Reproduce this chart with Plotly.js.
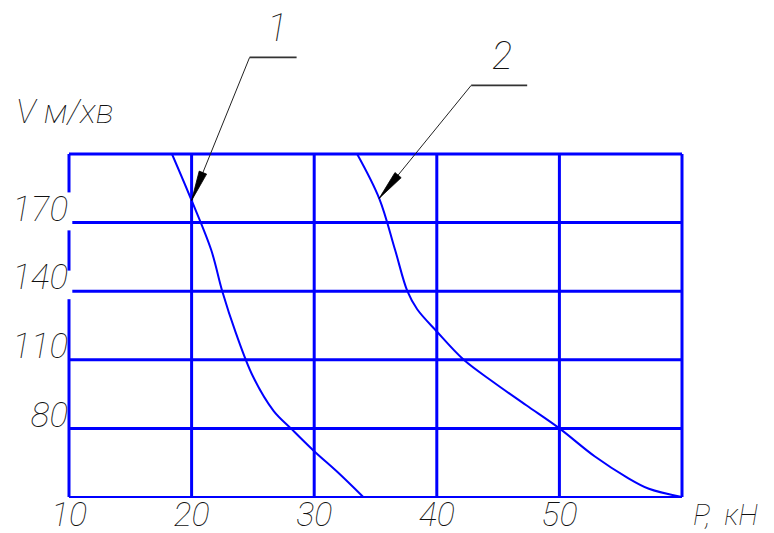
<!DOCTYPE html>
<html>
<head>
<meta charset="utf-8">
<script src="https://cdn.plot.ly/plotly-3.0.1.min.js"></script>
<style>
  html, body { margin: 0; padding: 0; background: #ffffff; }
  #chart { width: 774px; height: 533px; }
</style>
</head>
<body>
<div id="chart"></div>
<script>
// Traction force P (кН) against speed V (м/хв), two characteristics
var curve1P = [18.4, 20.0, 21.6, 22.5, 23.6, 25.0, 26.7, 28.1, 30.0, 31.9, 34.0];
var curve1V = [200, 179.7, 158, 140, 121.9, 102.8, 87.6, 80, 70, 60.9, 50];

var curve2P = [33.5, 35.3, 36.6, 37.6, 38.4, 40.0, 42.2, 44.6, 47.3, 50.0, 52.9, 55.5, 57.3, 60.0];
var curve2V = [200, 180.6, 158, 140, 132.1, 122.4, 110, 100.3, 90.1, 80, 67.7, 58.6, 53.6, 50];

var pTicks = [10, 20, 30, 40, 50];
var pTickText = ['10', '20', '30', '40', '50'];
var vTicks = [80, 110, 140, 170];
var vTickText = ['80', '110', '140', '170'];

var pRange = [10, 60];
var vRange = [50, 200];

var curveLabels = ['1', '2'];

var BLUE = '#0000ff';
var INK = '#111111';
var penFont = { family: 'Roboto', weight: 100, style: 'italic', color: INK };

function font(size) {
  return Object.assign({}, penFont, { size: size });
}

// data value -> fraction of the plot area, for items that must not be clipped
function fracP(p) { return (p - pRange[0]) / (pRange[1] - pRange[0]); }
function fracV(v) { return (v - vRange[0]) / (vRange[1] - vRange[0]); }

// grid: inner verticals and horizontals
var shapes = [];
pTicks.filter(function (p) { return p > pRange[0]; }).forEach(function (p) {
  shapes.push({ type: 'line', xref: 'x', yref: 'y', x0: p, x1: p, y0: vRange[0], y1: vRange[1],
    line: { color: BLUE, width: 3 }, layer: 'below' });
});
vTicks.forEach(function (v) {
  // the two upper lines stop short of the left edge, under their labels
  var start = v >= 140 ? pRange[0] + 0.27 : pRange[0];
  shapes.push({ type: 'line', xref: 'x', yref: 'y', x0: start, x1: pRange[1], y0: v, y1: v,
    line: { color: BLUE, width: 3 }, layer: 'below' });
});

// frame: top, bottom, right, and a left edge broken beside the 140 and 170 labels
function frameLine(x0, y0, x1, y1, w) {
  shapes.push({ type: 'line', xref: 'paper', yref: 'paper', x0: x0, y0: y0, x1: x1, y1: y1,
    line: { color: BLUE, width: w }, layer: 'below' });
}
frameLine(0, 1, 1, 1, 3);
frameLine(0, 0, 1, 0, 2);
frameLine(1, 0, 1, 1, 3);
var leftSegments = [[vRange[0], 136.5], [149, 166.6], [183.2, vRange[1]]];
leftSegments.forEach(function (s) {
  frameLine(0, fracV(s[0]), 0, fracV(s[1]), 3);
});

// leader arrows pointing at the curves, drawn in pixels from the arrow tip
var leaders = [
  { tip: [curve1P[1], curve1V[1]], tail: [58, 143], shelf: 47, label: curveLabels[0], labelAt: [85, 172] },
  { tip: [curve2P[1], curve2V[1]], tail: [92, 113], shelf: 56, label: curveLabels[1], labelAt: [123, 142] }
];
var annotations = [];
leaders.forEach(function (d) {
  var tx = d.tail[0], ty = d.tail[1];
  var len = Math.sqrt(tx * tx + ty * ty);
  var ux = tx / len, uy = ty / len;
  var nx = -uy, ny = ux;
  var headLen = 30, half = 4;
  var bx = ux * headLen, by = uy * headLen;
  var path = 'M0,0 L' + (bx + nx * half).toFixed(1) + ',' + (by + ny * half).toFixed(1) +
             ' L' + (bx - nx * half).toFixed(1) + ',' + (by - ny * half).toFixed(1) + ' Z';
  var anchor = { xref: 'paper', yref: 'paper', xsizemode: 'pixel', ysizemode: 'pixel',
                 xanchor: fracP(d.tip[0]), yanchor: fracV(d.tip[1]), layer: 'above' };
  shapes.push(Object.assign({ type: 'line', x0: 0, y0: 0, x1: tx, y1: ty,
    line: { color: '#222222', width: 1 } }, anchor));
  shapes.push(Object.assign({ type: 'line', x0: tx, y0: ty, x1: tx + d.shelf, y1: ty,
    line: { color: '#333333', width: 1.6 } }, anchor));
  shapes.push(Object.assign({ type: 'path', path: path, fillcolor: '#000000',
    line: { color: '#000000', width: 0.8 } }, anchor));
  annotations.push({ xref: 'x', yref: 'y', x: d.tip[0], y: d.tip[1],
    xshift: d.labelAt[0], yshift: d.labelAt[1], text: d.label, showarrow: false,
    xanchor: 'center', yanchor: 'middle', font: font(38) });
});

// axis names
annotations.push({ xref: 'paper', yref: 'paper', x: -0.09, y: 1.125, xanchor: 'left', yanchor: 'middle',
  text: 'V м/хв', showarrow: false, font: font(34) });
annotations.push({ xref: 'paper', yref: 'paper', x: 1.014, y: -0.052, xanchor: 'left', yanchor: 'middle',
  text: 'P,  кН', showarrow: false, font: font(29) });

var traces = [
  { x: curve1P, y: curve1V, type: 'scatter', mode: 'lines', name: curveLabels[0],
    line: { color: BLUE, width: 2, shape: 'spline', smoothing: 1.0 }, cliponaxis: false, hoverinfo: 'skip' },
  { x: curve2P, y: curve2V, type: 'scatter', mode: 'lines', name: curveLabels[1],
    line: { color: BLUE, width: 2, shape: 'spline', smoothing: 1.0 }, cliponaxis: false, hoverinfo: 'skip' }
];

var layout = {
  width: 774,
  height: 533,
  margin: { l: 69, r: 92, t: 154, b: 36, pad: 0 },
  paper_bgcolor: '#ffffff',
  plot_bgcolor: '#ffffff',
  showlegend: false,
  xaxis: {
    range: pRange,
    tickmode: 'array', tickvals: pTicks, ticktext: pTickText,
    showgrid: false, zeroline: false, showline: false, ticks: '',
    tickfont: font(34), ticklabelstandoff: -6
  },
  yaxis: {
    range: vRange,
    tickmode: 'array', tickvals: vTicks, ticktext: vTickText,
    showgrid: false, zeroline: false, showline: false, ticks: '',
    tickfont: font(35), ticklabelstandoff: 0, ticklabelshift: -14
  },
  shapes: shapes,
  annotations: annotations
};

Plotly.newPlot('chart', traces, layout, { staticPlot: true, displayModeBar: false });
</script>
</body>
</html>
